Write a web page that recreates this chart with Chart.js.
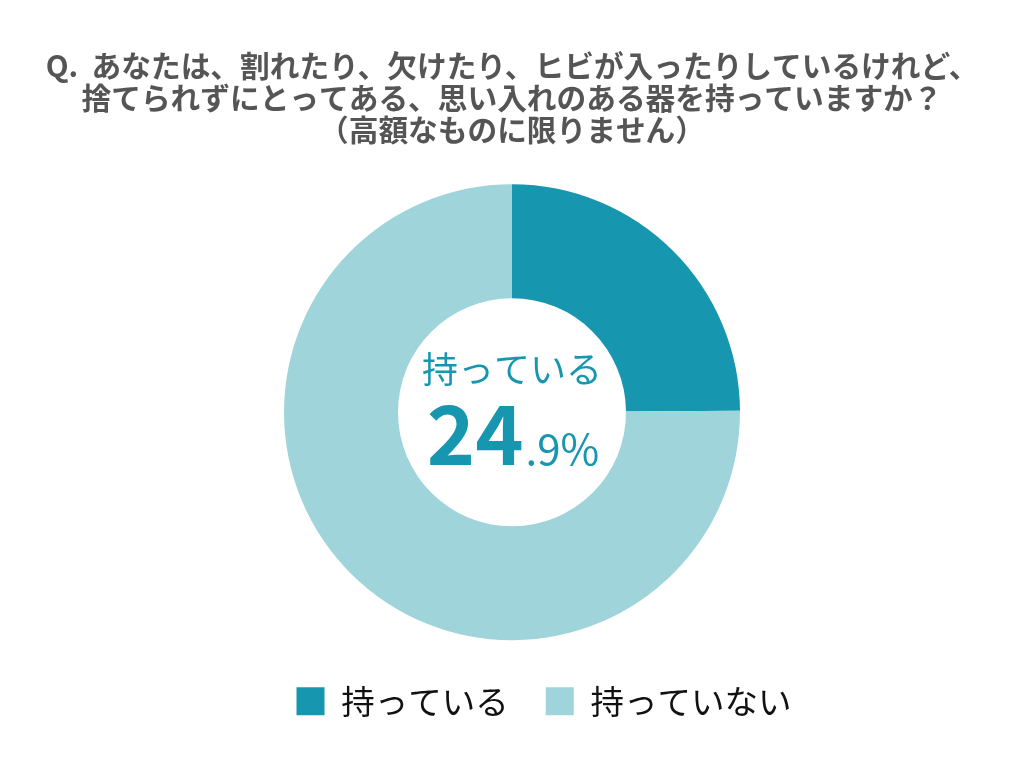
<!DOCTYPE html>
<html>
<head>
<meta charset="utf-8">
<script src="https://cdn.jsdelivr.net/npm/chart.js@4"></script>
<style>
  html, body { margin: 0; padding: 0; background: #fff; }
  #wrap { width: 1024px; height: 768px; }
</style>
</head>
<body>
<div id="wrap"><canvas id="chartVessel"></canvas></div>
<script>
const labels = ['持っている', '持っていない'];
const values = [24.9, 75.1];
const colors = ['#1796b0', '#9fd5da'];
const titleLines = [
    'Q.  あなたは、割れたり、欠けたり、ヒビが入ったりしているけれど、',
    '捨てられずにとってある、思い入れのある器を持っていますか？',
    '（高額なものに限りません）'
];
const centerLabel = '持っている';
const centerValue = '24';
const centerDecimal = '.9%';

(function() {
    const fontJP = '"Noto Sans CJK JP", "Noto Sans", sans-serif';

    // draws the label + percentage inside the hole
    const centerText = {
        id: 'centerText',
        afterDraw: function(chart) {
            const arc = chart.getDatasetMeta(0).data[0];
            if (!arc) return;
            const ctx = chart.ctx;
            const cx = arc.x;
            const cy = arc.y;
            ctx.save();
            ctx.fillStyle = colors[0];
            ctx.textAlign = 'center';
            ctx.textBaseline = 'middle';
            ctx.font = '36px ' + fontJP;
            ctx.fillText(centerLabel, cx, cy - 43);

            ctx.textBaseline = 'alphabetic';
            ctx.font = 'bold 82px ' + fontJP;
            const w1 = ctx.measureText(centerValue).width;
            ctx.font = '42px ' + fontJP;
            const w2 = ctx.measureText(centerDecimal).width;
            let x = cx - (w1 + w2) / 2;
            ctx.textAlign = 'left';
            ctx.font = 'bold 82px ' + fontJP;
            ctx.fillText(centerValue, x, cy + 53);
            ctx.font = '42px ' + fontJP;
            ctx.fillText(centerDecimal, x + w1 + 2, cy + 53);
            ctx.restore();
        }
    };

    // the legend in the original sits a little right of centre
    const legendShift = {
        id: 'legendShift',
        afterLayout: function(chart) {
            if (chart.legend) {
                chart.legend.left += 32;
                chart.legend.right += 32;
            }
        }
    };

    new Chart(document.getElementById('chartVessel'), {
        type: 'doughnut',
        data: {
            labels: labels,
            datasets: [{
                data: values,
                backgroundColor: colors,
                borderWidth: 0
            }]
        },
        options: {
            responsive: true,
            maintainAspectRatio: false,
            animation: false,
            radius: 228,
            cutout: '50%',
            layout: {
                padding: { top: 0, bottom: 40 }
            },
            plugins: {
                title: {
                    display: true,
                    text: titleLines,
                    color: '#555555',
                    font: { family: fontJP, size: 29.7, weight: 'bold', lineHeight: '32px' },
                    padding: { top: 50, bottom: 31 }
                },
                legend: {
                    position: 'bottom',
                    labels: {
                        color: '#111111',
                        boxWidth: 28,
                        boxHeight: 28,
                        padding: 37,
                        font: { family: fontJP, size: 33.5 }
                    }
                },
                tooltip: { enabled: false }
            }
        },
        plugins: [centerText, legendShift]
    });
})();
</script>
</body>
</html>
